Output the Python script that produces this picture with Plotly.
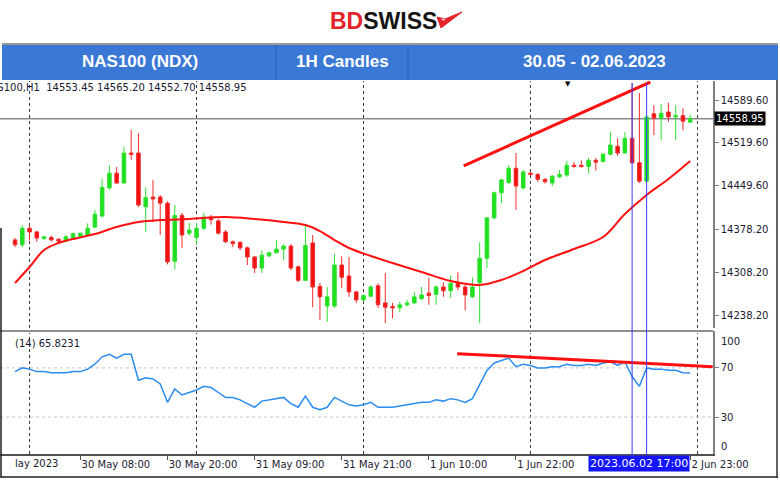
import plotly.graph_objects as go

W, H = 780, 480
def px(x): return x / W
def py(y): return 1 - y / H

# ---------------- data ----------------
bars = list(range(94))
opens = [14361,14353,14380,14374,14363,14365,14362,14359,14364,14367,
         14369,14382,14400,14446,14470,14454,14503,14503,14415,14431,
         14431,14421,14326,14401,14372,14365,14380,14398,14392,14374,
         14358,14357,14348,14333,14315,14335,14340,14346,14351,14317,
         14295,14356,14285,14253,14253,14320,14302,14276,14263,14269,
         14286,14258,14252,14250,14255,14258,14265,14274,14272,14284,
         14278,14290,14284,14268,14291,14331,14397,14438,14455,14478,
         14446,14470,14468,14460,14454,14464,14467,14483,14483,14481,
         14491,14489,14501,14514,14503,14527,14487,14457,14567,14560,
         14570,14562,14564,14553.45]
highs = [14364,14385,14385,14376,14368,14368,14364,14369,14373,14372,
         14388,14410,14461,14483,14480,14513,14541,14535,14447,14459,
         14434,14424,14418,14405,14389,14389,14405,14402,14395,14377,
         14360,14359,14350,14335,14344,14342,14361,14354,14354,14319,
         14385,14369,14291,14284,14338,14334,14333,14278,14272,14287,
         14290,14307,14258,14260,14263,14276,14284,14299,14287,14292,
         14303,14308,14287,14300,14357,14398,14440,14461,14483,14503,
         14475,14472,14470,14462,14467,14475,14490,14488,14491,14495,
         14495,14503,14537,14527,14537,14617,14601,14563,14581,14583,
         14585,14581,14576,14565.20]
lows = [14349,14349,14360,14358,14362,14358,14356,14357,14362,14364,
        14367,14380,14398,14443,14453,14453,14492,14415,14374,14390,
        14369,14321,14313,14348,14368,14353,14377,14386,14370,14356,
        14349,14344,14320,14307,14307,14333,14339,14328,14312,14292,
        14294,14251,14230,14227,14250,14282,14268,14258,14261,14268,
        14250,14225,14233,14243,14252,14256,14263,14255,14255,14268,
        14266,14279,14246,14266,14225,14315,14395,14421,14452,14410,
        14443,14466,14456,14453,14449,14462,14464,14479,14479,14470,
        14474,14488,14499,14498,14502,14486,14454,14456,14532,14524,
        14554,14524,14540,14552.70]
closes = [14353,14380,14374,14364,14366,14361,14359,14366,14371,14372,
          14380,14403,14447,14470,14454,14503,14501,14418,14430,14428,
          14421,14325,14401,14369,14377,14380,14398,14394,14372,14358,
          14355,14348,14333,14315,14336,14340,14346,14351,14315,14295,
          14352,14284,14268,14268,14320,14300,14276,14263,14270,14284,
          14255,14251,14250,14255,14258,14268,14271,14270,14284,14278,
          14290,14284,14271,14284,14331,14397,14438,14459,14478,14449,
          14472,14468,14460,14456,14465,14468,14483,14481,14481,14491,
          14488,14501,14516,14503,14527,14487,14457,14562,14560,14568,
          14562,14564,14555,14558.95]

ma_bars = [0,2,4,6,8,11,14,17,20,24,29,33,37,40,42,44,46,49,52,56,60,64,67,70,73,77,81,84,87,90,93]
ma_vals = [14290.6,14316.7,14344.5,14355.9,14362.5,14370.6,14382.1,14390.3,14393.5,14395.2,
           14398.4,14395.2,14390.3,14385.4,14375.5,14360.8,14347.8,14334.7,14323.3,14308.6,
           14293.9,14287.3,14295.5,14310.2,14328.2,14346.1,14365.7,14403.3,14434.4,14460.5,14489.9]

rsi = [67,70,69,67,67,66,66,66,67,67,
       69,73,79,81,78,81,81,60,62,61,
       57,42,53,48,50,52,55,54,50,46,
       46,44,41,38,43,44,45,46,41,38,
       47,38,36,38,46,43,40,39,40,42,
       38,38,38,39,40,41,42,42,44,43,
       45,44,42,45,56,68,74,76,78,71,
       73,72,70,70,71,71,73,72,72,73,
       72,74,75,72,75,63,55,70,69,69,
       68,68,66,65.8231]

trend_bars = [61.8, 87.5]
trend_vals = [14482, 14619]
rsi_trend_bars = [60.9, 96.1]
rsi_trend_vals = [81.6, 71.0]

price_ticks = [14238.20, 14308.20, 14378.20, 14449.60, 14519.60, 14589.60]
last_price = 14558.95
time_tick_bars = [9, 21, 33, 45, 57, 69, 81, 93]
time_tick_text = ["30 May 08:00", "30 May 20:00", "31 May 09:00", "31 May 21:00",
                  "1 Jun 10:00", "1 Jun 22:00", "", "2 Jun 23:00"]
grid_bars = [2, 25, 48, 71, 94]
marked_bars = [85, 87]

# ---------------- figure ----------------
FONT = "DejaVu Sans"
TXT = "#1a1a30"
fig = go.Figure()

fig.add_trace(go.Candlestick(
    x=bars, open=opens, high=highs, low=lows, close=closes,
    increasing=dict(line=dict(color="#2ee02e", width=1), fillcolor="#1fe01f"),
    decreasing=dict(line=dict(color="#f02a2a", width=1), fillcolor="#f01010"),
    xaxis="x", yaxis="y", showlegend=False, hoverinfo="skip"))

fig.add_trace(go.Scatter(x=ma_bars, y=ma_vals, mode="lines",
                         line=dict(color="#ff1010", width=2, shape="spline"),
                         xaxis="x", yaxis="y", showlegend=False, hoverinfo="skip"))
fig.add_trace(go.Scatter(x=trend_bars, y=trend_vals, mode="lines",
                         line=dict(color="#ff1010", width=3),
                         xaxis="x", yaxis="y", showlegend=False, hoverinfo="skip"))
fig.add_trace(go.Scatter(x=bars, y=rsi, mode="lines",
                         line=dict(color="#2a8cf0", width=1.5),
                         xaxis="x2", yaxis="y2", showlegend=False, hoverinfo="skip"))
fig.add_trace(go.Scatter(x=rsi_trend_bars, y=rsi_trend_vals, mode="lines",
                         line=dict(color="#ff1010", width=3),
                         xaxis="x2", yaxis="y2", showlegend=False, hoverinfo="skip"))

xr = [-2.07, 96.14]
fig.update_layout(
    width=W, height=H, autosize=False, margin=dict(l=0, r=0, t=0, b=0, pad=0),
    paper_bgcolor="white", plot_bgcolor="white",
    font=dict(family=FONT, size=10, color=TXT),
    xaxis=dict(domain=[0, px(713)], range=xr, anchor="y", showticklabels=False,
               showgrid=False, zeroline=False, showline=False, ticks="",
               automargin=False,
               rangeslider=dict(visible=False), fixedrange=True),
    yaxis=dict(domain=[py(328), py(81)], range=[14217.05, 14620.65], anchor="x",
               side="right", tickvals=price_ticks,
               ticktext=[f"{v:.2f}" for v in price_ticks],
               ticks="outside", ticklen=4, tickcolor="#808080",
               showline=True, linecolor="#808080", linewidth=1.5,
               showgrid=False, zeroline=False, automargin=False,
               tickfont=dict(family=FONT, size=10, color=TXT)),
    xaxis2=dict(domain=[0, px(713)], range=xr, anchor="y2", matches="x",
                tickvals=time_tick_bars, ticktext=time_tick_text,
                ticklabelposition="outside right",
                ticks="outside", ticklen=4, tickcolor="#505050",
                showline=True, linecolor="#505050", linewidth=1.5,
                showgrid=False, zeroline=False, automargin=False,
                tickfont=dict(family=FONT, size=10, color=TXT)),
    yaxis2=dict(domain=[py(454), py(331)], range=[0, 100], anchor="x2",
                side="right", tickvals=[30, 70], ticktext=["30", "70"],
                ticks="outside", ticklen=4, tickcolor="#808080",
                showline=True, linecolor="#808080", linewidth=1.5,
                showgrid=False, zeroline=False, automargin=False,
                tickfont=dict(family=FONT, size=10, color=TXT)),
)

shapes = []
# header
shapes.append(dict(type="line", xref="paper", yref="paper", x0=px(2), x1=px(778),
                   y0=py(44), y1=py(44), line=dict(color="#9a9a9a", width=2)))
shapes.append(dict(type="rect", xref="paper", yref="paper", x0=px(2), x1=px(778),
                   y0=py(80), y1=py(45), fillcolor="#3a78d6", line=dict(width=0)))
for dx in [276, 408]:
    shapes.append(dict(type="line", xref="paper", yref="paper", x0=px(dx), x1=px(dx),
                       y0=py(45), y1=py(80), line=dict(color="#2c5fae", width=1)))
# vertical dotted grid
for b in grid_bars:
    for (ya, yb) in [(81, 328), (333, 454)]:
        shapes.append(dict(type="line", xref="x", yref="paper", x0=b, x1=b,
                           y0=py(yb), y1=py(ya), layer="below",
                           line=dict(color="#383838", width=1, dash="dot")))
# RSI levels
for lv in [70, 30]:
    shapes.append(dict(type="line", xref="paper", yref="y2", x0=0, x1=px(713),
                       y0=lv, y1=lv, layer="below",
                       line=dict(color="#c4c4c4", width=1, dash="dot")))
# last price line
shapes.append(dict(type="line", xref="paper", yref="y", x0=0, x1=px(713),
                   y0=last_price, y1=last_price, layer="below",
                   line=dict(color="#8a8a8a", width=1.5)))
# panel separator
shapes.append(dict(type="line", xref="paper", yref="paper", x0=0, x1=px(713),
                   y0=py(331), y1=py(331), line=dict(color="#6a6a6a", width=1.5)))
# blue marker lines
for b in marked_bars:
    shapes.append(dict(type="line", xref="x", yref="paper", x0=b, x1=b,
                       y0=py(455), y1=py(83), line=dict(color="#3a3aff", width=1)))
# outer frame pieces
shapes.append(dict(type="line", xref="paper", yref="paper", x0=px(1), x1=px(1),
                   y0=py(478), y1=py(228), line=dict(color="#202020", width=1.5)))
shapes.append(dict(type="line", xref="paper", yref="paper", x0=px(1), x1=px(778),
                   y0=py(477), y1=py(477), line=dict(color="#202020", width=1.5)))
shapes.append(dict(type="line", xref="paper", yref="paper", x0=px(777), x1=px(777),
                   y0=py(478), y1=py(80), line=dict(color="#303030", width=1.5)))
# logo chevron
pts = [(437, 17), (441, 28), (462, 12), (445, 19)]
path = "M " + " L ".join(f"{px(a):.5f},{py(b):.5f}" for a, b in pts) + " Z"
shapes.append(dict(type="path", xref="paper", yref="paper", path=path,
                   fillcolor="#e2232a", line=dict(color="#e2232a", width=1)))
fig.update_layout(shapes=shapes)


def note(x, y, text, size=10, color=TXT, family=FONT, xa="center", ya="middle",
         xref="paper", yref="paper", **kw):
    d = dict(xref=xref, yref=yref, x=x, y=y, text=text, showarrow=False,
             xanchor=xa, yanchor=ya, font=dict(family=family, size=size, color=color))
    d.update(kw)
    return d


ann = []
ann.append(note(px(383), py(21),
                "<b><span style='color:#e2232a'>BD</span><span style='color:#151515'>SWISS</span></b>",
                size=23, family="Liberation Sans"))
ann.append(note(px(443), py(20), "+", size=8, color="white", family="Liberation Sans"))
for t, cx in [("NAS100 (NDX)", 140), ("1H Candles", 342), ("30.05 - 02.06.2023", 594)]:
    ann.append(note(px(cx), py(62), f"<b>{t}</b>", size=17, color="white",
                    family="Liberation Sans"))
ann.append(note(px(-19), py(87), "NAS100,H1  14553.45 14565.20 14552.70 14558.95", xa="left"))
ann.append(note(px(13), py(343), "(14) 65.8231", xa="left"))
ann.append(note(px(13), py(463), "lay 2023", xa="left"))
ann.append(note(px(714), last_price, "14558.95", color="white", xa="left", yref="y",
                bgcolor="#000000", borderpad=1))
ann.append(note(px(719), py(341), "100", xa="left"))
ann.append(note(px(719), py(446), "0", xa="left"))
ann.append(note(px(568), py(84), "▼", size=7, color="#000000"))
ann.append(note(px(690), py(463), "2023.06.02 17:00", size=11, color="white", xa="right",
                bgcolor="#1414ff", borderpad=1))
fig.update_layout(annotations=ann)

fig.write_html("out.html", config={"displayModeBar": False},
               post_script="document.body.style.margin='0px';")
